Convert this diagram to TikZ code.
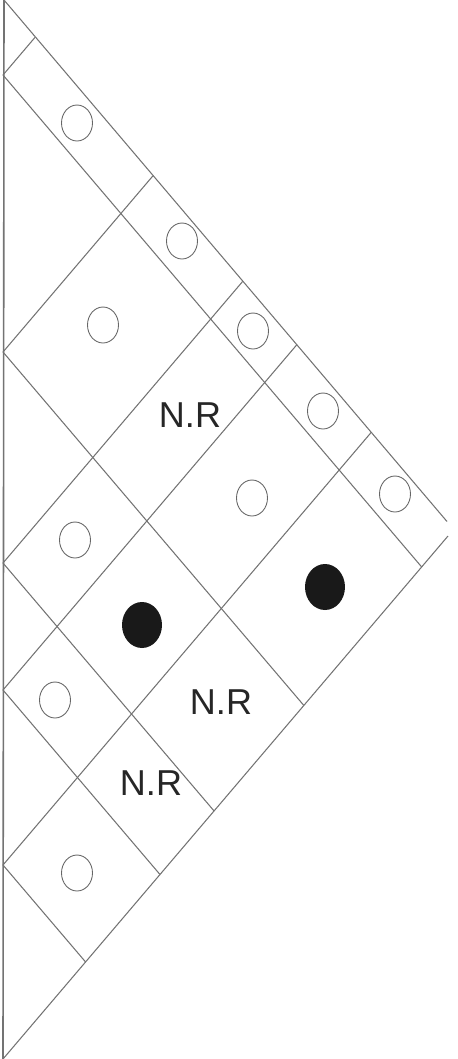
\documentclass[tikz,border=0pt]{standalone}
\usepackage{fontspec}
\setmainfont{Liberation Sans}
\usetikzlibrary{shapes.geometric}
\tikzset{
    nodebase/.style={ % kiểu nút cơ sở
        shape=ellipse,
        inner sep=0pt,
        minimum width=0.62cm,
        minimum height=0.72cm
    },
    node_o/.style={ % ô có vòng tròn rỗng
        nodebase,
        draw=black!60,
        line width=0.5pt
    },
    node_x/.style={ % ô có chấm đen
        nodebase,
        fill=black!90,
        minimum width=0.8cm,
        minimum height=0.92cm
    },
    node_nr/.style={ % nhãn N.R
        text=black!85,
        font=\fontsize{20.5}{24}\selectfont
    },
    edge_g/.style={ % đường lưới
        draw=black!55,
        line width=0.6pt
    }
}

\begin{document}
\begin{tikzpicture}[x=0.02cm, y=-0.02cm]
\useasboundingbox (0,0) rectangle (457,1059);

        % các điểm trên cạnh trái
        \coordinate (P0) at (4,0);
        \coordinate (P1) at (3,75);
        \coordinate (P2) at (3,352);
        \coordinate (P3) at (3,563);
        \coordinate (P4) at (3,690);
        \coordinate (P5) at (3,865);
        \coordinate (P6) at (3,1059);

        % đầu mút ở góc phải (không khép kín)
        \coordinate (Ra) at (447,521.5);
        \coordinate (Rb) at (448,536);

        % điểm cuối trên cạnh trên
        \coordinate (T1) at (34.9,37.5);
        \coordinate (T2) at (152.8,176);
        \coordinate (T3) at (242.6,281.5);
        \coordinate (T4) at (296.6,345);
        \coordinate (T5) at (371.1,432.5);

        % điểm cuối trên cạnh dưới
        \coordinate (E1) at (421.7,567);
        \coordinate (E2) at (303.9,705.5);
        \coordinate (E3) at (214.1,811);
        \coordinate (E4) at (160,874.5);
        \coordinate (E5) at (85.6,962);

        % khung
        \draw[edge_g, line width=0.9pt] (P0) -- (P6);
        \draw[edge_g] (P0) -- (Ra);
        \draw[edge_g] (P6) -- (Rb);

        % đường đi xuống
        \draw[edge_g] (P1) -- (E1);
        \draw[edge_g] (P2) -- (E2);
        \draw[edge_g] (P3) -- (E3);
        \draw[edge_g] (P4) -- (E4);
        \draw[edge_g] (P5) -- (E5);

        % đường đi lên
        \draw[edge_g] (P1) -- (T1);
        \draw[edge_g] (P2) -- (T2);
        \draw[edge_g] (P3) -- (T3);
        \draw[edge_g] (P4) -- (T4);
        \draw[edge_g] (P5) -- (T5);

        % nội dung các ô
        \node [node_o] (o01) at (77,123) {};
        \node [node_o] (o02) at (182,241) {};
        \node [node_o] (o03) at (253,331) {};
        \node [node_o] (o04) at (323,411) {};
        \node [node_o] (o05) at (395,494) {};
        \node [node_o] (o12) at (103,325) {};
        \node [node_o] (o14) at (252,498) {};
        \node [node_o] (o23) at (75,540) {};
        \node [node_o] (o34) at (55,700) {};
        \node [node_o] (o45) at (77,873) {};

        \node [node_x] (x15) at (325,587) {};
        \node [node_x] (x24) at (142,625) {};

        \node [node_nr] (nr13) at (190,415) {N.R};
        \node [node_nr] (nr25) at (221,702) {N.R};
        \node [node_nr] (nr35) at (151,783) {N.R};

\end{tikzpicture}
\end{document}
